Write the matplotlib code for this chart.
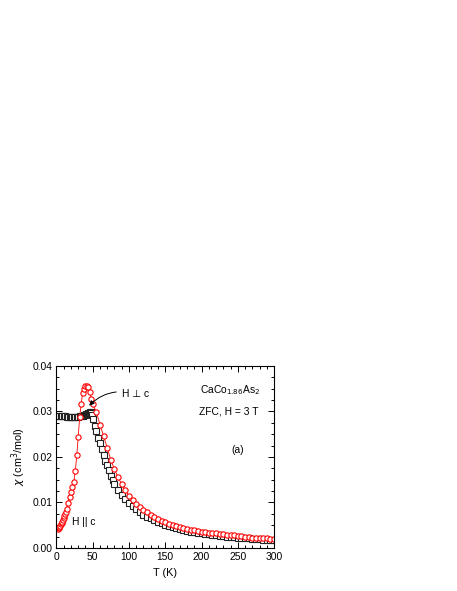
import matplotlib
matplotlib.use("Agg")
import matplotlib.pyplot as plt
from matplotlib.ticker import MultipleLocator

plt.rcParams['font.family'] = ['Liberation Sans', 'DejaVu Sans']

# H || c (red circles)
T_par = [2, 3, 4, 5, 6, 7, 8, 9, 10, 11, 12, 13, 14, 16, 18, 20, 22, 24, 26, 28,
         30, 32, 34, 36, 38, 40, 42, 44, 46, 48, 50, 55, 60, 65, 70, 75, 80, 85,
         90, 95, 100, 105, 110, 115, 120, 125, 130, 135, 140, 145, 150, 155, 160,
         165, 170, 175, 180, 185, 190, 195, 200, 205, 210, 215, 220, 225, 230,
         235, 240, 245, 250, 255, 260, 265, 270, 275, 280, 285, 290, 295, 300]
chi_par = [0.0042, 0.0044, 0.0046, 0.0049, 0.0052, 0.0055, 0.0058, 0.0062, 0.0066,
           0.0070, 0.0075, 0.0080, 0.0086, 0.0099, 0.0112, 0.0124, 0.0135, 0.0146,
           0.0170, 0.0204, 0.0245, 0.0288, 0.0316, 0.0340, 0.0350, 0.0355, 0.0356,
           0.0353, 0.0342, 0.0328, 0.0316, 0.0299, 0.0271, 0.0246, 0.0220, 0.0193,
           0.0173, 0.0155, 0.0140, 0.0127, 0.0115, 0.0105, 0.0097, 0.0089, 0.0083,
           0.0078, 0.0072, 0.0068, 0.0063, 0.0060, 0.0056, 0.0053, 0.0050, 0.0048,
           0.0046, 0.0044, 0.0042, 0.0040, 0.0039, 0.0037, 0.0036, 0.0035, 0.0034,
           0.0033, 0.0032, 0.0031, 0.0030, 0.0029, 0.0028, 0.0028, 0.0027, 0.0026,
           0.0025, 0.0024, 0.0023, 0.0023, 0.0022, 0.0021, 0.0021, 0.0020, 0.0020]

# H perp c (black squares)
T_perp = [2, 4, 6, 8, 10, 12, 14, 16, 18, 20, 22, 24, 26, 28, 30, 32, 34, 36, 38,
          40, 41, 42, 43, 44, 45, 46, 47, 48, 49, 50, 52.5, 55, 57.5, 60, 62.5, 65,
          67.5, 70, 72.5, 75, 77.5, 80, 85, 90, 95, 100, 105, 110, 115, 120, 125,
          130, 135, 140, 145, 150, 155, 160, 165, 170, 175, 180, 185, 190, 195, 200,
          205, 210, 215, 220, 225, 230, 235, 240, 245, 250, 255, 260, 265, 270, 275,
          280, 285, 290, 295, 300]
chi_perp = [0.0291, 0.0291, 0.0291, 0.0290, 0.0290, 0.0290, 0.0289, 0.0289, 0.0289,
            0.0289, 0.0289, 0.0289, 0.0289, 0.0289, 0.0289, 0.0290, 0.0290, 0.0291,
            0.0292, 0.0293, 0.0294, 0.0294, 0.0295, 0.0296, 0.0297, 0.0298, 0.0298,
            0.0297, 0.0292, 0.0284, 0.0269, 0.0257, 0.0242, 0.0230, 0.0218, 0.0204,
            0.0192, 0.0182, 0.0171, 0.0158, 0.0150, 0.0141, 0.0128, 0.0117, 0.0107,
            0.0099, 0.0092, 0.0085, 0.0079, 0.0073, 0.0069, 0.0065, 0.0061, 0.0057,
            0.0054, 0.0051, 0.0048, 0.0046, 0.0044, 0.0042, 0.0040, 0.0038, 0.0036,
            0.0035, 0.0033, 0.0032, 0.0031, 0.0030, 0.0029, 0.0028, 0.0027, 0.0026,
            0.0025, 0.0024, 0.0024, 0.0023, 0.0022, 0.0021, 0.0021, 0.0020, 0.0019,
            0.0019, 0.0018, 0.0018, 0.0017, 0.0017]

fig = plt.figure(figsize=(4.57, 5.91), dpi=100)
ax = fig.add_axes([0.1236, 0.0728, 0.4760, 0.3079])

ax.plot(T_perp, chi_perp, linestyle='none', marker='s', markersize=3.8,
        markerfacecolor='white', markeredgecolor='#222222', markeredgewidth=0.8)
ax.plot(T_par, chi_par, color='red', linewidth=0.6, marker='o', markersize=3.8,
        markerfacecolor='white', markeredgecolor='red', markeredgewidth=0.8)

ax.set_xlim(0, 300)
ax.set_ylim(0.0, 0.04)
ax.xaxis.set_major_locator(MultipleLocator(50))
ax.xaxis.set_minor_locator(MultipleLocator(10))
ax.yaxis.set_major_locator(MultipleLocator(0.01))
ax.yaxis.set_minor_locator(MultipleLocator(0.0025))
ax.yaxis.set_major_formatter(matplotlib.ticker.FormatStrFormatter('%.2f'))
ax.tick_params(which='both', direction='in', top=True, right=True, labelsize=7.4,
               width=0.7)
ax.tick_params(which='major', length=4, pad=3)
ax.tick_params(which='minor', length=2)
for s in ax.spines.values():
    s.set_linewidth(0.8)

ax.set_xlabel('T (K)', fontsize=7.8, labelpad=4)
ax.set_ylabel(r'$\chi$ (cm$^3$/mol)', fontsize=7.8, labelpad=3)

ax.text(281, 0.0347, r'CaCo$_{1.86}$As$_2$', fontsize=7.4, ha='right', va='center')
ax.text(278, 0.0300, 'ZFC, H = 3 T', fontsize=7.4, ha='right', va='center')
ax.text(250, 0.0215, '(a)', fontsize=7.4, ha='center', va='center')
ax.text(22, 0.0058, 'H || c', fontsize=7.4, ha='left', va='center')
ax.annotate('H \u22a5 c', xy=(45, 0.0313), xytext=(90, 0.0338), fontsize=7.4,
            ha='left', va='center',
            arrowprops=dict(arrowstyle='-|>', color='black', lw=0.7,
                            mutation_scale=7, shrinkA=2, shrinkB=0,
                            connectionstyle='arc3,rad=0.3'))

fig.savefig('out.png', dpi=100)
